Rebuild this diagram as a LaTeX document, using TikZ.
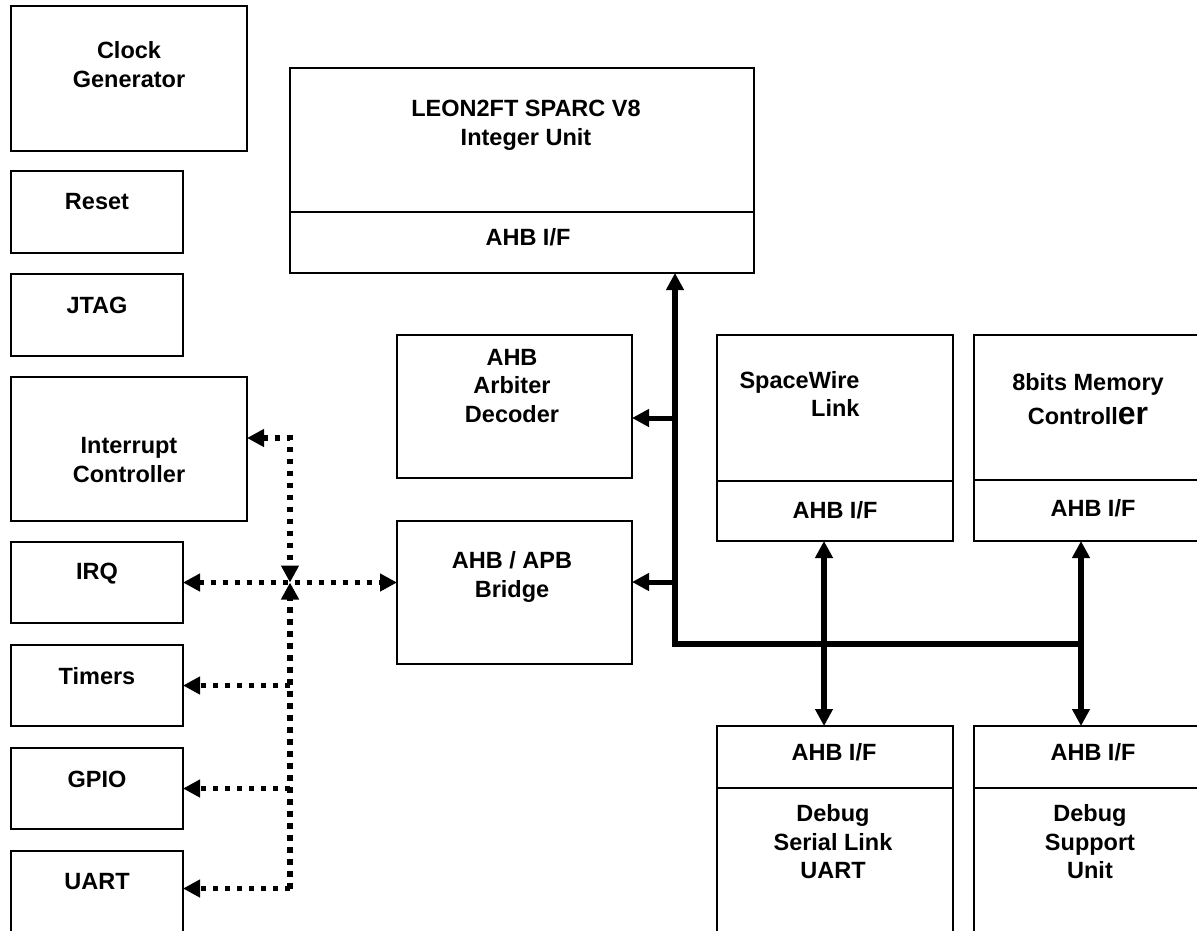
\documentclass[tikz,border=0pt]{standalone}
\usepackage{fontspec}
\setmainfont{Liberation Sans}
\usetikzlibrary{arrows.meta}

\begin{document}
\begin{tikzpicture}[x=1pt,y=-1pt,
  >={Triangle[length=17pt,width=17pt]},
  blk/.style={draw,line width=1.8pt,inner sep=0pt,outer sep=0pt},
  lbl/.style={align=center,inner sep=0pt,font=\bfseries\fontsize{23.5}{28.5}\selectfont},
  bus/.style={line width=6pt},
  sidebus/.style={line width=5pt},
  dotline/.style={line width=5.5pt,line cap=butt,dash pattern=on 5.5pt off 6.5pt}]
  \useasboundingbox (0,0) rectangle (1197,930);
  \clip (0,0) rectangle (1197,930);
  % 左列外设
  \node[blk,minimum width=236,minimum height=145] (clk) at (129,78.5) {};
  \node[lbl] (clkt) at (129,64.5) {Clock\\Generator};
  \node[blk,minimum width=172,minimum height=82] (rst) at (97,212) {};
  \node[lbl] (rstt) at (97,202) {Reset};
  \node[blk,minimum width=172,minimum height=82] (jtag) at (97,315) {};
  \node[lbl] (jtagt) at (97,305) {JTAG};
  \node[blk,minimum width=236,minimum height=144] (intc) at (129,449) {};
  \node[lbl] (intct) at (129,460) {Interrupt\\Controller};
  \node[blk,minimum width=172,minimum height=81] (irq) at (97,582.5) {};
  \node[lbl] (irqt) at (97,574) {IRQ};
  \node[blk,minimum width=172,minimum height=81] (tmr) at (97,685.5) {};
  \node[lbl] (tmrt) at (97,676) {Timers};
  \node[blk,minimum width=172,minimum height=81] (gpio) at (97,788.5) {};
  \node[lbl] (gpiot) at (97,779) {GPIO};
  \node[blk,minimum width=172,minimum height=81] (uart) at (97,891.5) {};
  \node[lbl] (uartt) at (97,882) {UART};
  % 处理器
  \node[blk,minimum width=464,minimum height=144] (leon) at (522,140) {};
  \node[blk,minimum width=464,minimum height=61] (leonif) at (522,242.5) {};
  \node[lbl] (leont) at (526,125.5) {LEON2FT SPARC V8\\Integer Unit};
  \node[lbl] (leonift) at (528,237) {AHB I/F};
  % 仲裁器与桥
  \node[blk,minimum width=235,minimum height=143] (arb) at (514.5,406.5) {};
  \node[lbl] (arbt) at (512,386) {AHB\\Arbiter\\Decoder};
  \node[blk,minimum width=235,minimum height=143] (brg) at (514.5,592.5) {};
  \node[lbl] (brgt) at (512,577) {AHB / APB\\Bridge};
  % 右侧 AHB 从设备
  \node[blk,minimum width=236,minimum height=146] (spw) at (835,408) {};
  \node[blk,minimum width=236,minimum height=60] (spwif) at (835,511) {};
  \node[lbl,align=right] (spwt) at (799.5,394) {SpaceWire\\Link};
  \node[lbl] (spwift) at (835,510) {AHB I/F};
  \node[blk,minimum width=236,minimum height=145] (mem) at (1092,407.5) {};
  \node[blk,minimum width=236,minimum height=61] (memif) at (1092,510.5) {};
  \node[lbl] (memt) at (1088,399) {8bits Memory\\[6pt]Controll{\fontsize{32}{32}\selectfont er}};
  \node[lbl] (memift) at (1093,508) {AHB I/F};
  \node[blk,minimum width=236,minimum height=62] (dslif) at (835,757) {};
  \node[blk,minimum width=236,minimum height=150] (dsl) at (835,863) {};
  \node[lbl] (dslift) at (834,752) {AHB I/F};
  \node[lbl] (dslt) at (833,842) {Debug\\Serial Link\\UART};
  \node[blk,minimum width=236,minimum height=62] (dsuif) at (1092,757) {};
  \node[blk,minimum width=236,minimum height=150] (dsu) at (1092,863) {};
  \node[lbl] (dsuift) at (1093,752) {AHB I/F};
  \node[lbl] (dsut) at (1090,842) {Debug\\Support\\Unit};
  % AHB 总线
  \coordinate (bl) at (675,644);
  \coordinate (br) at (1081,644);
  \draw[bus,<-] (bl |- leonif.south) -- (bl) -- (br);
  \draw[sidebus,->] (bl |- 0,418) -- ([yshift=-11.5pt]arb.east);
  \draw[sidebus,->] (bl |- 0,582) -- ([yshift=10.5pt]brg.east);
  \draw[bus,<->] ([xshift=-11pt]spwif.south) -- ([xshift=-11pt]dslif.north);
  \draw[bus,<->] ([xshift=-11pt]memif.south) -- ([xshift=-11pt]dsuif.north);
  % APB 虚线
  \coordinate (dj) at (290,582.5);
  \draw[dotline,<->] ([yshift=11pt]intc.east) -| (dj);
  \draw[dotline,<->] (irq.east) -- (brg.west |- irq.east);
  \draw[dotline,->] ([yshift=3pt]dj |- uart.east) -- (dj);
  \draw[dotline,->] (dj |- tmr.east) -- (tmr.east);
  \draw[dotline,->] (dj |- gpio.east) -- (gpio.east);
  \draw[dotline,->] ([yshift=3pt]dj |- uart.east) -- ([yshift=3pt]uart.east);
\end{tikzpicture}
\end{document}
